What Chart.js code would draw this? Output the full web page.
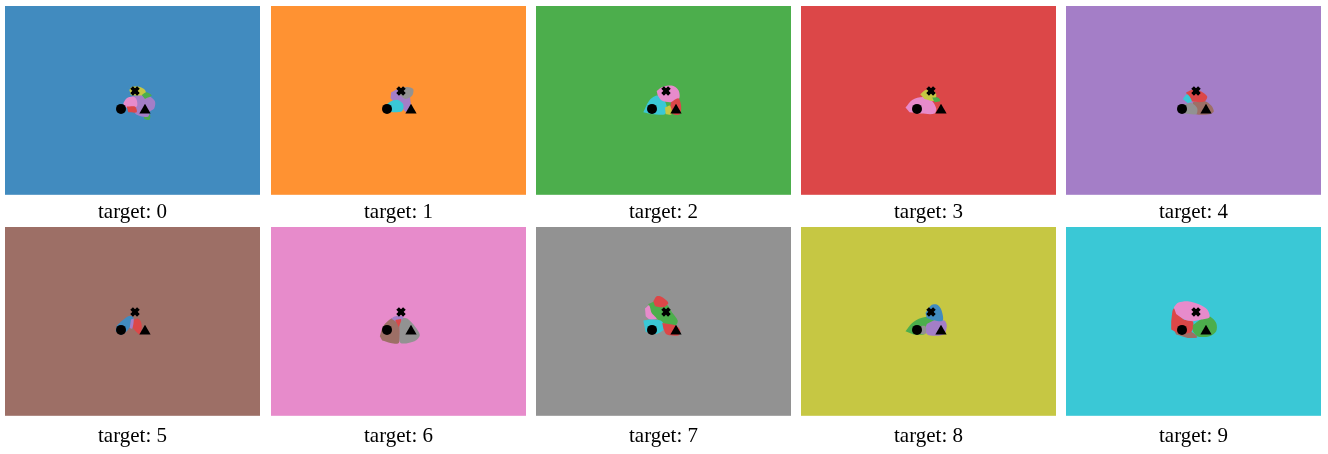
<!DOCTYPE html>
<html>
<head>
<meta charset="utf-8">
<script src="https://cdn.jsdelivr.net/npm/chart.js@4.4.1/dist/chart.umd.min.js"></script>
<style>
  body { margin: 0; background: #fff; width: 1328px; height: 454px; overflow: hidden; position: relative; }
  .cell { position: absolute; }
</style>
</head>
<body>
<script>
/*** data ***/

const targets = [0, 1, 2, 3, 4, 5, 6, 7, 8, 9];

// tab10, lightened (alpha .85 on white)
const palette = [
  "rgb(65,139,191)", "rgb(255,146,50)", "rgb(76,174,76)", "rgb(220,71,72)", "rgb(164,126,199)",
  "rgb(157,111,102)", "rgb(231,139,203)", "rgb(146,146,146)", "rgb(198,199,67)", "rgb(58,200,214)",
];

// the three anchor points (circle, cross, triangle)
const anchorX = [-11.5, 2.5, 12.5];
const anchorY = [-8.5, 9.5, -9.8];
const anchorStyle = ["circle", "crossRot", "triangle"];

// coloured regions per target, bottom to top: [class, points]
const regions = [
  [
    [2, [[10.8,-13.8],[17.5,-14.5],[16.8,-19.5],[11.8,-18.5]]],
    [4, [[-0.8,3.8],[9.2,5.5],[17.5,3.8],[22.5,-1.2],[21.8,-7.8],[17.5,-11.2],[15.8,-16.2],[9.2,-16.2],[2.5,-12.8],[0.8,-4.5]]],
    [8, [[-3.2,10.5],[-0.8,13.5],[7.5,13.5],[12.5,10.5],[13.2,6.2],[5.8,4.8],[-1.5,5.5]]],
    [2, [[9.2,5.5],[14.2,8.2],[19.2,4.8],[12.5,1.5]]],
    [6, [[-9.2,-2.8],[-5.8,2.2],[0.8,3.8],[4.2,0.5],[4.2,-6.2],[-4.2,-7.8],[-8.2,-6.2]]],
    [3, [[-5.8,-6.2],[2.5,-6.2],[4.2,-11.8],[-4.2,-11.8]]],
  ],
  [
    [4, [[-7.3,8.2],[0.3,11.5],[10.3,7.2],[12,-1.2],[12.7,-9.5],[7,-11.2],[2,-4.5],[-4.7,-1.2],[-8,2.2]]],
    [7, [[-0.7,11.5],[8.7,13.5],[14.7,11.5],[13.7,4.8],[7,1.5],[1.3,5.5]]],
    [9, [[-14,-6.2],[-8,-1.2],[-0.7,0.5],[4.7,-3.8],[3.7,-10.5],[-4.7,-11.8],[-11.3,-11.2]]],
  ],
  [
    [9, [[-20.2,-11.8],[-14.5,-0.5],[-6.8,4.8],[-0.2,1.5],[3.2,-6.2],[1.5,-13.8],[-11.8,-13.8]]],
    [6, [[-6.8,9.5],[-1.2,13.5],[8.2,14.8],[14.8,10.5],[15.8,2.2],[8.2,-1.8],[-1.8,-0.2],[-5.8,4.8]]],
    [3, [[7.5,-1.8],[14.8,2.2],[17.5,-4.5],[16.5,-13.8],[9.8,-13.8],[6.5,-7.8]]],
    [8, [[1.5,-7.2],[6.5,-5.2],[8.2,-13.8],[2.2,-13.8]]],
  ],
  [
    [6, [[-23,-7.2],[-16.3,0.5],[-5.7,3.5],[2.7,0.5],[7.7,-7.8],[6,-13.2],[-7.3,-13.2],[-19,-11.8]]],
    [8, [[-8.3,6.2],[-3,10.5],[3.7,10.5],[7.7,6.2],[6,-0.5],[-4,1.5]]],
    [2, [[3.7,2.8],[9.3,2.8],[11.7,-0.5],[6,-1.8]]],
  ],
  [
    [5, [[-0.7,-1.8],[11,-0.5],[17.7,-5.2],[20.3,-11.2],[16,-13.8],[2.7,-13.8],[-0.7,-7.8]]],
    [7, [[-10.7,-4.5],[-1.7,-2.8],[3.7,-7.8],[2.7,-13.8],[-9,-13.2]]],
    [3, [[-7.3,8.2],[1,11.5],[7.7,8.8],[13.7,3.8],[11,-1.2],[-0.7,-1.2],[-5.7,2.2]]],
    [9, [[-10.7,1.5],[-6.3,6.2],[-1.7,-0.5],[-5.7,-2.8]]],
  ],
  [
    [0, [[-16.8,-9.8],[-15.8,-4.8],[-10.2,0.8],[-4.2,5.2],[0.8,4.2],[-1.5,-3.8],[-5.8,-9.8],[-11.5,-13.8]]],
    [3, [[-0.2,0.8],[5.2,2.8],[8.5,-0.5],[9.2,-7.2],[7.5,-13.2],[3.2,-9.8],[-0.2,-5.8]]],
    [4, [[-1.5,1.8],[1.2,2.8],[-0.2,-7.2],[-2.8,-6.5]]],
  ],
  [
    [5, [[-18.7,-14.8],[-15.3,-4.8],[-7.3,2.8],[0.3,4.2],[1.3,-8.2],[0.3,-21.5],[-8,-21.5],[-16.3,-19.2]]],
    [7, [[0.3,4.2],[8.7,2.8],[17,-5.8],[21.3,-13.8],[16,-19.8],[2,-21.5],[1.3,-8.2]]],
    [4, [[-7.3,2.8],[-3,5.2],[4.7,4.8],[2,-0.5],[-2,-0.5]]],
    [3, [[-3.3,1.5],[2.7,2.2],[0.3,-5.8]]],
  ],
  [
    [2, [[-15.2,17.5],[-6.8,20.2],[3.2,16.8],[8.2,9.5],[14.2,0.8],[12.2,-3.8],[1.5,-2.5],[-6.8,2.8],[-13.5,7.5]]],
    [3, [[-10.2,20.2],[-6.8,25.2],[-1.2,24.2],[4.8,18.5],[-0.2,14.2],[-8.5,15.2]]],
    [6, [[-18.5,12.8],[-14.5,16.2],[-11.8,8.5],[-6.8,2.8],[-13.5,1.8],[-17.8,5.2]]],
    [9, [[-20.2,0.8],[-12.5,1.8],[-1.8,0.2],[0.8,-7.2],[-6.8,-12.5],[-17.8,-10.5]]],
    [3, [[-1.2,-1.5],[11.5,-3.8],[16.5,-8.2],[15.5,-13.8],[3.2,-13.2],[-0.2,-7.2]]],
  ],
  [
    [2, [[-23,-9.8],[-16.3,-1.5],[-7.3,3.5],[4.3,4.2],[5,0.2],[-2.3,-4.8],[-4,-12.5],[-15,-13.2]]],
    [4, [[-1.7,-2.5],[6,0.8],[16,0.8],[18.3,-4.8],[15,-13.2],[0.3,-13.8],[-4,-9.8]]],
    [0, [[-3,8.5],[2.7,16.2],[8.3,16.8],[12.7,11.8],[14.3,0.8],[6,0.8],[-1.7,3.5]]],
    [7, [[-9.7,-4.8],[-3,-4.8],[-3,-12.5],[-8.3,-12.5]]],
  ],
  [
    [5, [[-20.7,-6.5],[-12.3,-10.5],[-1.7,-10.5],[3.7,-15.8],[-5.7,-16.5],[-17.3,-13.2]]],
    [3, [[-22.3,0.2],[-19.7,12.8],[-9.7,1.8],[-0.7,0.2],[-1.7,-9.8],[-12.3,-12.5],[-22.3,-8.2]]],
    [2, [[-0.7,-3.8],[7.7,2.2],[16,4.8],[22.7,-1.5],[22.7,-9.8],[16,-14.8],[4.3,-15.2],[-0.7,-9.8]]],
    [6, [[-19.7,14.2],[-15,18.8],[-5.7,20.2],[6,16.8],[13.7,11.8],[16,4.2],[7.7,1.8],[-0.7,0.2],[-9,1.8],[-17.3,7.5]]],
  ],
];

/*** layout ***/

const colLeft = [5, 271, 536, 801, 1066];
const rowTop = [6, 227];
const titlePad = [5, 8];

// paints the target colour behind everything
const panelBg = {
  id: "panelBg",
  beforeDraw(chart, args, opts) {
    const { ctx, chartArea: a } = chart;
    ctx.save();
    ctx.fillStyle = opts.color;
    ctx.fillRect(a.left, a.top, a.right - a.left, a.bottom - a.top);
    ctx.restore();
  },
};

targets.forEach((t, i) => {
  const row = Math.floor(i / 5), col = i % 5;
  const div = document.createElement("div");
  div.className = "cell";
  div.style.left = colLeft[col] + "px";
  div.style.top = rowTop[row] + "px";
  const canvas = document.createElement("canvas");
  canvas.width = 255;
  canvas.height = 189 + 25 + titlePad[row];
  div.appendChild(canvas);
  document.body.appendChild(div);

  const datasets = [];
  regions[i].forEach(([c, pts], k) => {
    datasets.push({
      data: pts.map(([x, y]) => ({ x, y })),
      showLine: true,
      fill: "shape",
      backgroundColor: palette[c],
      borderWidth: 0,
      pointRadius: 0,
      tension: 0.3,
      order: 100 - k,
    });
  });
  anchorX.forEach((x, k) => {
    const style = anchorStyle[k];
    datasets.push({
      data: [{ x, y: anchorY[k] }],
      pointStyle: style,
      pointRadius: style == "circle" ? 5 : style == "triangle" ? 6.5 : 4.8,
      pointBorderWidth: style == "crossRot" ? 3.8 : 0,
      backgroundColor: "#000",
      borderColor: "#000",
      order: 0,
    });
  });

  new Chart(canvas.getContext("2d"), {
    type: "scatter",
    data: { datasets },
    options: {
      responsive: false,
      animation: false,
      events: [],
      layout: { padding: 0, autoPadding: false },
      scales: {
        x: { display: false, min: -127.5, max: 127.5 },
        y: { display: false, min: -94.5, max: 94.5 },
      },
      plugins: {
        legend: { display: false },
        tooltip: { enabled: false },
        panelBg: { color: palette[t] },
        title: {
          display: true,
          position: "bottom",
          text: "target: " + t,
          color: "#000",
          font: { family: "Liberation Serif", size: 21, weight: "normal", lineHeight: 1.2 },
          padding: { top: titlePad[row], bottom: 0 },
        },
      },
    },
    plugins: [panelBg],
  });
});
</script>
</body>
</html>
